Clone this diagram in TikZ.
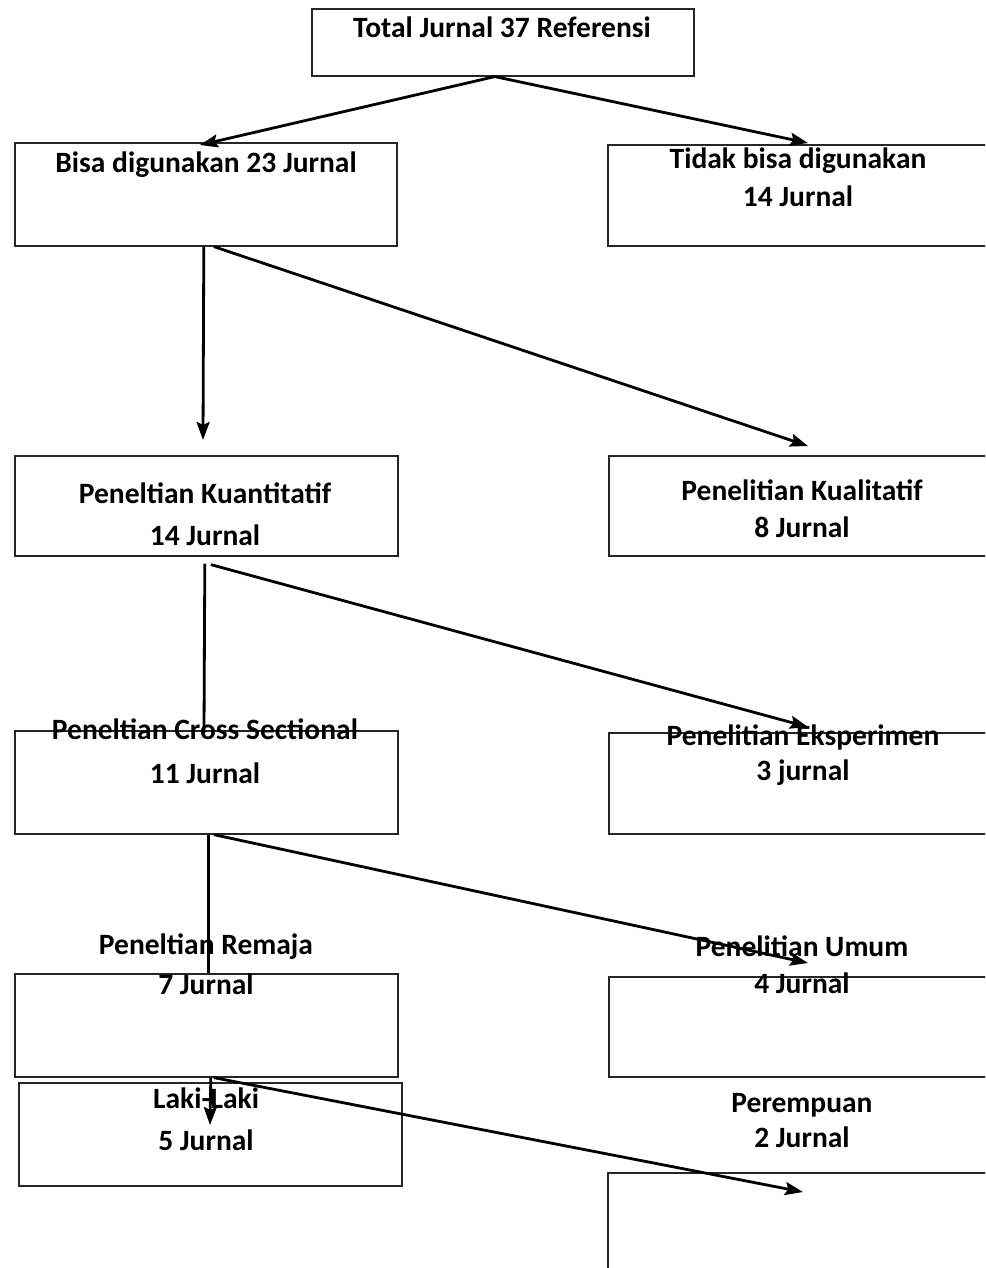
\documentclass[tikz,border=0pt]{standalone}
\usepackage{fontspec}
\setmainfont{Carlito}
\usetikzlibrary{arrows.meta}

\begin{document}
\begin{tikzpicture}[
  x=1pt, y=-1pt,
  box/.style={draw=black!85,line width=1.6pt,anchor=north west,inner sep=0pt,
              minimum width=383pt,minimum height=102pt},
  rbox/.style={box,minimum width=400pt},
  txt/.style={font=\fontsize{29.5}{34}\selectfont\bfseries,anchor=base,inner sep=0pt},
  arr/.style={-{Stealth[length=18pt,width=13pt,inset=3pt]},line width=2.8pt},
  ln/.style={line width=2.8pt}
]
\useasboundingbox (0,0) rectangle (985,1268);
\clip (0,0) rectangle (985,1268);

% --- kotak kiri ---
\node[box,minimum width=382pt,minimum height=67pt] (total) at (311,8) {};
\node[box,minimum width=382pt,minimum height=103pt] (bisa)  at (14,142) {};
\node[box,minimum height=100pt] (kuanti) at (14,455) {};
\node[box,minimum height=103pt] (cross)  at (14,730) {};
\node[box,minimum height=103pt] (remaja) at (14,973) {};
\node[box,minimum height=103pt] (laki)   at (18,1082) {};

% --- kotak kanan (terpotong) ---
\node[rbox,minimum height=101pt] (tidak) at (607,144) {};
\node[rbox,minimum height=100pt] (kuali) at (608,455) {};
\node[rbox,minimum height=101pt] (eksp)  at (608,732) {};
\node[rbox,minimum height=100pt] (umum)  at (608,976) {};
\node[rbox,minimum height=150pt] (perem) at (607,1172) {};

% --- teks ---
\node[txt] (tTotal)   at (502,38)   {Total Jurnal 37 Referensi};
\node[txt] (tBisa)    at (206,173)  {Bisa digunakan 23 Jurnal};
\node[txt] (tTidak)   at (798,168)  {Tidak bisa digunakan};
\node[txt] (nTidak)   at (798,206)  {14 Jurnal};
\node[txt] (tKuanti)  at (205,503)  {Peneltian Kuantitatif};
\node[txt] (nKuanti)  at (205,545)  {14 Jurnal};
\node[txt] (tKuali)   at (802,500)  {Penelitian Kualitatif};
\node[txt] (nKuali)   at (802,537)  {8 Jurnal};
\node[txt] (tCross)   at (205,739)  {Peneltian Cross Sectional};
\node[txt] (nCross)   at (205,783)  {11 Jurnal};
\node[txt] (tEksp)    at (803,745)  {Penelitian Eksperimen};
\node[txt] (nEksp)    at (803,780)  {3 jurnal};
\node[txt] (tRemaja)  at (206,954)  {Peneltian Remaja};
\node[txt] (nRemaja)  at (206,994)  {7 Jurnal};
\node[txt] (tUmum)    at (802,956)  {Penelitian Umum};
\node[txt] (nUmum)    at (802,993)  {4 Jurnal};
\node[txt] (tLaki)    at (206,1108) {Laki-Laki};
\node[txt] (nLaki)    at (206,1150) {5 Jurnal};
\node[txt] (tPerem)   at (802,1112) {Perempuan};
\node[txt] (nPerem)   at (802,1147) {2 Jurnal};

% --- ujung panah ---
\coordinate (pBisa)   at (200,145);
\coordinate (pTidak)  at (808,143);
\coordinate (pKuanti) at (203,440);
\coordinate (pKuali)  at (808,446);
\coordinate (pCross)  at (204,733);
\coordinate (pEksp)   at (808,727);
\coordinate (pUmum)   at (808,963);
\coordinate (pLaki)   at (210,1125);
\coordinate (pPerem)  at (803,1192);

% --- panah ---
\draw[arr] ([xshift=-8pt]total.south) -- (pBisa);
\draw[arr] ([xshift=-8pt]total.south) -- (pTidak);
\draw[arr] ([xshift=-2pt]bisa.south) -- (pKuanti);
\draw[arr] ([xshift=8pt]bisa.south) -- (pKuali);
\draw[ln]  ([xshift=-1.5pt,yshift=-7pt]kuanti.south) -- (pCross);
\draw[arr] ([xshift=4.5pt,yshift=-8pt]kuanti.south) -- (pEksp);
\draw[ln]  ([xshift=2.5pt]cross.south) -- ([xshift=2.5pt]remaja.north);
\draw[arr] ([xshift=7.5pt]cross.south) -- (pUmum);
\draw[arr] ([xshift=4.5pt]remaja.south) -- (pLaki);
\draw[arr] ([xshift=7.5pt]remaja.south) -- (pPerem);
\end{tikzpicture}
\end{document}
